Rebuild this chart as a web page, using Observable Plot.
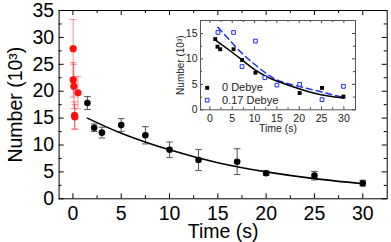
<!DOCTYPE html>
<html>
<head>
<meta charset="utf-8">
<script src="https://cdn.jsdelivr.net/npm/d3@7"></script>
<script src="https://cdn.jsdelivr.net/npm/@observablehq/plot@0.6"></script>
<style>
  html, body { margin: 0; padding: 0; background: white; }
  #wrap { position: relative; width: 391px; height: 242px; }
  #inset { position: absolute; left: 165px; top: 15px; }
</style>
</head>
<body>
<div id="wrap"><div id="main"></div><div id="inset"></div></div>
<script>
// ---- main chart data ----
const redT   = [0.03, 0.03, 0.1, 0.17, 0.2, 0.52];
const redN   = [27.9, 22.1, 20.9, 15.5, 15.2, 19.7];
const redErr = [5.4, 3.2, 4.1, 2.5, 2.3, 3.0];

const blkT   = [1.5, 2.2, 3, 5, 7.5, 10, 13, 17, 20, 25, 30];
const blkN   = [17.8, 13.2, 12.3, 13.7, 11.8, 9.1, 7.2, 6.9, 4.75, 4.3, 2.9];
const blkErr = [1.2, 0.7, 1.0, 1.2, 1.6, 1.45, 1.95, 2.4, 0.4, 0.8, 0.55];

const fitT = [1.5, 5, 10, 15, 20, 25, 30];
const fitN = [15.0, 12.2, 9.1, 6.7, 5.0, 3.75, 2.8];

const mainXTicks = [0, 5, 10, 15, 20, 25, 30];
const mainXMinor = [2.5, 7.5, 12.5, 17.5, 22.5, 27.5];
const mainYTicks = [0, 5, 10, 15, 20, 25, 30, 35];
const mainYMinor = [2.5, 7.5, 12.5, 17.5, 22.5, 27.5, 32.5];

// ---- inset data ----
const d0T = [1.2, 1.7, 2.3, 5.3, 7.2, 10.2, 20.1, 25.1, 29.9];
const d0N = [13.9, 12.4, 11.9, 11.9, 9.8, 7.3, 3.3, 4.3, 2.6];
const d17T = [1.8, 5.3, 7.2, 10.2, 12.3, 15, 20.1, 25.1, 29.9];
const d17N = [15.2, 15.2, 8.5, 13.5, 6.3, 4.85, 5.0, 2.0, 4.6];
const fit0T = [1.2, 4.2, 7.2, 10.2, 13.2, 15.8, 23.2, 30];
const fit0N = [13.7, 11.8, 9.8, 7.8, 6.3, 5.4, 3.3, 2.3];
const fit17T = [1.8, 4.2, 7.2, 10.2, 13.2, 16.5, 23.2, 29.6];
const fit17N = [16.2, 13.9, 11.1, 8.8, 6.8, 5.4, 3.9, 2.5];

const insetXTicks = [0, 5, 10, 15, 20, 25, 30];
const insetXMinor = [2.5, 7.5, 12.5, 17.5, 22.5, 27.5];
const insetYTicks = [0, 5, 10, 15];
const insetYMinor = [2.5, 7.5, 12.5];
const legendLabels = ["0 Debye", "0.17 Debye"];

// ---- helpers ----
const zip2 = (a, b) => a.map((v, i) => ({t: v, n: b[i]}));
const zip3 = (a, b, c) => a.map((v, i) => ({t: v, n: b[i], e: c[i]}));
const hbar = {draw(ctx, size) { const r = Math.sqrt(size / Math.PI); ctx.moveTo(-r, 0); ctx.lineTo(r, 0); }};

function frameTicks(xs, ys, len, W, H, stroke) {
  return [
    Plot.tickX(xs, {x: d => d, insetTop: H - len, stroke}),
    Plot.tickX(xs, {x: d => d, insetBottom: H - len, stroke}),
    Plot.tickY(ys, {y: d => d, insetRight: W - len, stroke}),
    Plot.tickY(ys, {y: d => d, insetLeft: W - len, stroke})
  ];
}
function errorBars(data, stroke, opacity, capR) {
  return [
    Plot.ruleX(data, {x: "t", y1: d => d.n - d.e, y2: d => d.n + d.e, stroke, strokeOpacity: opacity, strokeWidth: 1}),
    Plot.dot(data, {x: "t", y: d => d.n - d.e, symbol: hbar, r: capR, stroke, strokeOpacity: opacity, fill: "none", strokeWidth: 1}),
    Plot.dot(data, {x: "t", y: d => d.n + d.e, symbol: hbar, r: capR, stroke, strokeOpacity: opacity, fill: "none", strokeWidth: 1})
  ];
}

// ---- main ----
const M = {top: 10, right: 4.3, bottom: 43.7, left: 58.6};
const MW = 391 - M.left - M.right, MH = 242 - M.top - M.bottom;
const red = zip3(redT, redN, redErr);
const blk = zip3(blkT, blkN, blkErr);

const main = Plot.plot({
  width: 391, height: 242,
  marginTop: M.top, marginRight: M.right, marginBottom: M.bottom, marginLeft: M.left,
  style: {fontFamily: "'Liberation Sans', Arial, sans-serif", fontSize: "19.5px", background: "white", color: "black", overflow: "visible"},
  x: {domain: [-1.43, 32.53]},
  y: {domain: [0, 35]},
  marks: [
    ...frameTicks(mainXTicks, mainYTicks, 5, MW, MH, "black"),
    ...frameTicks(mainXMinor, mainYMinor, 3, MW, MH, "black"),
    Plot.frame({stroke: "black", strokeWidth: 1}),
    Plot.axisX(mainXTicks, {tickSize: 0, tickPadding: 7.5, label: null, fontSize: 19.5}),
    Plot.axisY(mainYTicks, {tickSize: 0, tickPadding: 5, label: null, fontSize: 19.5}),
    Plot.text(["Time (s)"], {frameAnchor: "bottom", dy: 32.5, text: d => d, fontSize: 19.5, lineAnchor: "middle", textAnchor: "middle"}),
    Plot.text(["Number (10³)"], {frameAnchor: "left", dx: -43.5, rotate: -90, text: d => d, fontSize: 19.5, lineAnchor: "middle", textAnchor: "middle"}),
    ...errorBars(red, "#ff3030", 0.55, 3.3),
    ...errorBars(blk, "#555555", 1, 3.3),
    Plot.line(zip2(fitT, fitN), {x: "t", y: "n", stroke: "black", strokeWidth: 1.6, curve: "natural"}),
    Plot.dot(red, {x: "t", y: "n", r: 3.6, fill: "#ff1010", stroke: "none"}),
    Plot.dot(blk, {x: "t", y: "n", r: 3.3, fill: "black", stroke: "none"})
  ]
});
document.getElementById("main").append(main);

// ---- inset ----
const I = {top: 5, right: 5, bottom: 27.7, left: 35};
const IWid = 195, IHei = 122;
const IW = IWid - I.left - I.right, IH = IHei - I.top - I.bottom;
const blue = "#1f2dff";

const inset = Plot.plot({
  width: IWid, height: IHei,
  marginTop: I.top, marginRight: I.right, marginBottom: I.bottom, marginLeft: I.left,
  style: {fontFamily: "'Liberation Sans', Arial, sans-serif", fontSize: "10.5px", background: "transparent", color: "#222", overflow: "visible"},
  x: {domain: [-2.1, 32.6]},
  y: {domain: [0, 17.55]},
  marks: [
    ...frameTicks(insetXTicks, insetYTicks, 3, IW, IH, "#444"),
    ...frameTicks(insetXMinor, insetYMinor, 2, IW, IH, "#444"),
    Plot.frame({stroke: "#555", strokeWidth: 1}),
    Plot.axisX(insetXTicks, {tickSize: 0, tickPadding: 4.5, label: null, fontSize: 10.5}),
    Plot.axisY(insetYTicks, {tickSize: 0, tickPadding: 3, label: null, fontSize: 10.5}),
    Plot.text(["Time (s)"], {frameAnchor: "bottom", dy: 18.7, text: d => d, fontSize: 10.5, lineAnchor: "middle", textAnchor: "middle"}),
    Plot.text(["Number (10³)"], {frameAnchor: "left", dx: -20, rotate: -90, text: d => d, fontSize: 10, lineAnchor: "middle", textAnchor: "middle"}),
    Plot.line(zip2(fit17T, fit17N), {x: "t", y: "n", stroke: blue, strokeWidth: 1.5, strokeDasharray: "6,4", curve: "natural"}),
    Plot.line(zip2(fit0T, fit0N), {x: "t", y: "n", stroke: "black", strokeWidth: 1.5, curve: "natural"}),
    Plot.dot(zip2(d0T, d0N), {x: "t", y: "n", symbol: "square", r: 2.2, fill: "black", stroke: "none"}),
    Plot.dot(zip2(d17T, d17N), {x: "t", y: "n", symbol: "square", r: 2.1, fill: "white", stroke: blue, strokeWidth: 1}),
    Plot.dot([legendLabels[0]], {frameAnchor: "top-left", dx: 6.7, dy: 67.3, symbol: "square", r: 2.2, fill: "black", stroke: "none"}),
    Plot.dot([legendLabels[1]], {frameAnchor: "top-left", dx: 6.7, dy: 79.7, symbol: "square", r: 2.1, fill: "white", stroke: blue, strokeWidth: 1}),
    Plot.text([legendLabels[0]], {frameAnchor: "top-left", dx: 21.5, dy: 67.3, text: d => d, textAnchor: "start", lineAnchor: "middle", fontSize: 11}),
    Plot.text([legendLabels[1]], {frameAnchor: "top-left", dx: 21.5, dy: 79.7, text: d => d, textAnchor: "start", lineAnchor: "middle", fontSize: 11})
  ]
});
document.getElementById("inset").append(inset);
</script>
</body>
</html>
